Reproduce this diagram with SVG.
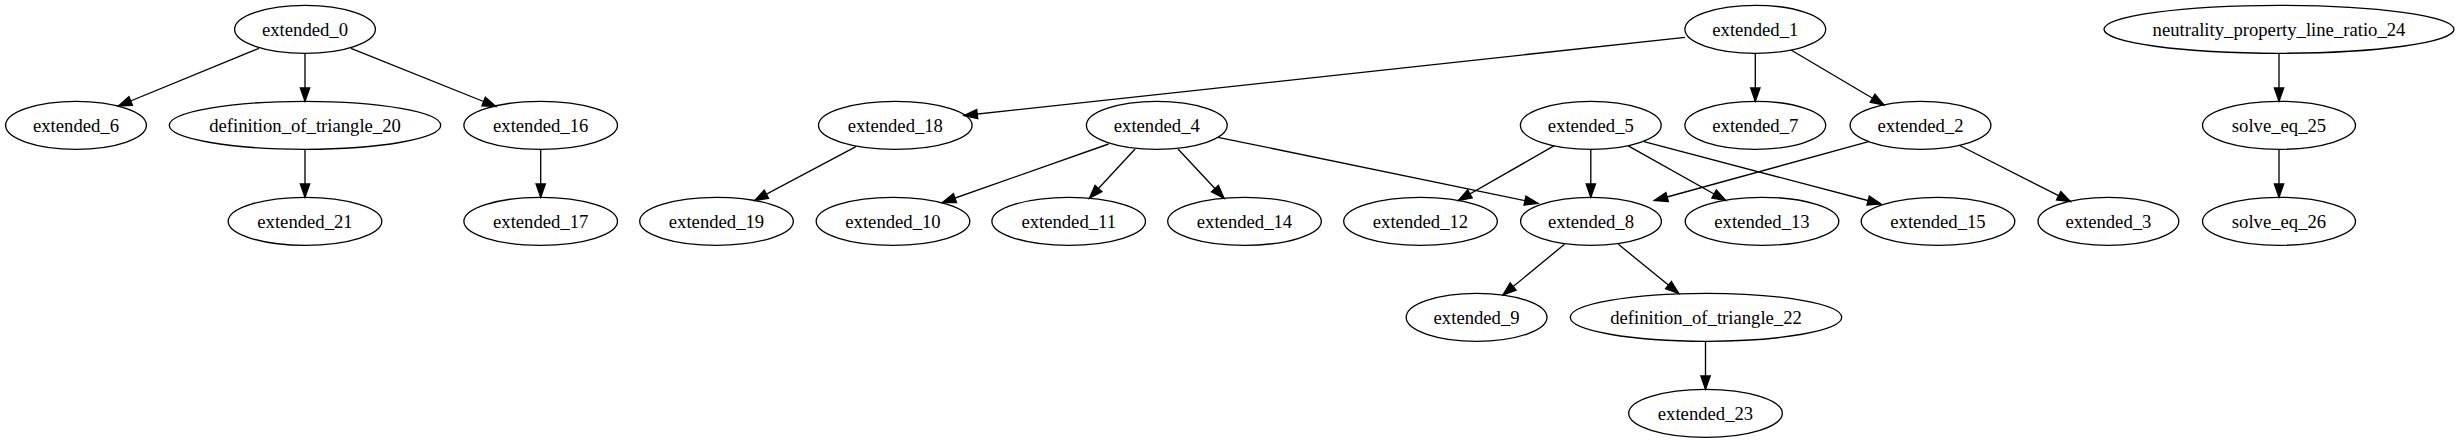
<svg xmlns="http://www.w3.org/2000/svg" width="2460" height="443" viewBox="0 0 2460 443">
<style>
.n ellipse{fill:none;stroke:#000;stroke-width:1.33}
.n text{font-family:"Liberation Serif","Times New Roman",serif;font-size:18.67px;text-anchor:middle;fill:#000}
.e line{stroke:#000;stroke-width:1.33;marker-end:url(#ah)}
</style>
<defs>
<marker id="ah" markerUnits="userSpaceOnUse" markerWidth="16" markerHeight="12" refX="13.3" refY="4.67" orient="auto" overflow="visible">
<path d="M0,0 L13.3,4.67 L0,9.33 Z" fill="#000" stroke="#000" stroke-width="1.33"/>
</marker>
</defs>
<rect width="2460" height="443" fill="#fff"/>
<g id="edges" class="e">
<line x1="259" y1="48.3" x2="118.4" y2="106"/>
<line x1="305" y1="53.3" x2="305" y2="101.3"/>
<line x1="351" y1="48.3" x2="496" y2="106.5"/>
<line x1="305" y1="149.3" x2="305" y2="197.3"/>
<line x1="540.7" y1="149.3" x2="540.7" y2="197.3"/>
<line x1="1685" y1="37.3" x2="964" y2="115.5"/>
<line x1="855.9" y1="146.7" x2="754.7" y2="200.5"/>
<line x1="1108.6" y1="144" x2="942.4" y2="202.5"/>
<line x1="1135.1" y1="149" x2="1089.4" y2="198.3"/>
<line x1="1178" y1="149" x2="1224" y2="198.3"/>
<line x1="1218" y1="137.3" x2="1538" y2="203.3"/>
<line x1="1755.3" y1="53.3" x2="1755.3" y2="101.3"/>
<line x1="1791" y1="50" x2="1884" y2="105"/>
<line x1="1554.3" y1="145.7" x2="1458.4" y2="200.5"/>
<line x1="1590.8" y1="149.3" x2="1590.8" y2="197.3"/>
<line x1="1627.8" y1="145.7" x2="1725.7" y2="200.5"/>
<line x1="1644" y1="141.7" x2="1881" y2="204"/>
<line x1="1868.6" y1="141.7" x2="1654.3" y2="200.5"/>
<line x1="1958.7" y1="145" x2="2070.5" y2="201.7"/>
<line x1="2279" y1="53.3" x2="2279" y2="101.3"/>
<line x1="2279" y1="149.3" x2="2279" y2="197.3"/>
<line x1="1564.5" y1="244.3" x2="1502.9" y2="295"/>
<line x1="1618.4" y1="244.3" x2="1678.8" y2="293.5"/>
<line x1="1705.5" y1="341.3" x2="1705.5" y2="389.3"/>
</g>
<g id="extended_0" class="n"><ellipse cx="305" cy="29.3" rx="70.4" ry="24"/><text x="305" y="35.5">extended_0</text></g>
<g id="extended_6" class="n"><ellipse cx="76" cy="125.3" rx="70.4" ry="24"/><text x="76" y="131.5">extended_6</text></g>
<g id="definition_of_triangle_20" class="n"><ellipse cx="305" cy="125.3" rx="135.7" ry="24"/><text x="305" y="131.5">definition_of_triangle_20</text></g>
<g id="extended_16" class="n"><ellipse cx="540.7" cy="125.3" rx="76.8" ry="24"/><text x="540.7" y="131.5">extended_16</text></g>
<g id="extended_21" class="n"><ellipse cx="305" cy="221.3" rx="76.8" ry="24"/><text x="305" y="227.5">extended_21</text></g>
<g id="extended_17" class="n"><ellipse cx="540.7" cy="221.3" rx="76.8" ry="24"/><text x="540.7" y="227.5">extended_17</text></g>
<g id="extended_1" class="n"><ellipse cx="1755.3" cy="29.3" rx="70.4" ry="24"/><text x="1755.3" y="35.5">extended_1</text></g>
<g id="extended_18" class="n"><ellipse cx="895.3" cy="125.3" rx="76.8" ry="24"/><text x="895.3" y="131.5">extended_18</text></g>
<g id="extended_4" class="n"><ellipse cx="1156.8" cy="125.3" rx="70.4" ry="24"/><text x="1156.8" y="131.5">extended_4</text></g>
<g id="extended_5" class="n"><ellipse cx="1590.8" cy="125.3" rx="70.4" ry="24"/><text x="1590.8" y="131.5">extended_5</text></g>
<g id="extended_7" class="n"><ellipse cx="1755.3" cy="125.3" rx="70.4" ry="24"/><text x="1755.3" y="131.5">extended_7</text></g>
<g id="extended_2" class="n"><ellipse cx="1920.5" cy="125.3" rx="70.4" ry="24"/><text x="1920.5" y="131.5">extended_2</text></g>
<g id="extended_19" class="n"><ellipse cx="716.5" cy="221.3" rx="76.8" ry="24"/><text x="716.5" y="227.5">extended_19</text></g>
<g id="extended_10" class="n"><ellipse cx="893" cy="221.3" rx="76.8" ry="24"/><text x="893" y="227.5">extended_10</text></g>
<g id="extended_11" class="n"><ellipse cx="1068.7" cy="221.3" rx="76.8" ry="24"/><text x="1068.7" y="227.5">extended_11</text></g>
<g id="extended_14" class="n"><ellipse cx="1244.5" cy="221.3" rx="76.8" ry="24"/><text x="1244.5" y="227.5">extended_14</text></g>
<g id="extended_12" class="n"><ellipse cx="1420.5" cy="221.3" rx="76.8" ry="24"/><text x="1420.5" y="227.5">extended_12</text></g>
<g id="extended_8" class="n"><ellipse cx="1591" cy="221.3" rx="70.4" ry="24"/><text x="1591" y="227.5">extended_8</text></g>
<g id="extended_13" class="n"><ellipse cx="1762" cy="221.3" rx="76.8" ry="24"/><text x="1762" y="227.5">extended_13</text></g>
<g id="extended_15" class="n"><ellipse cx="1938" cy="221.3" rx="76.8" ry="24"/><text x="1938" y="227.5">extended_15</text></g>
<g id="extended_3" class="n"><ellipse cx="2108.4" cy="221.3" rx="70.4" ry="24"/><text x="2108.4" y="227.5">extended_3</text></g>
<g id="extended_9" class="n"><ellipse cx="1476.6" cy="317.3" rx="70.4" ry="24"/><text x="1476.6" y="323.5">extended_9</text></g>
<g id="definition_of_triangle_22" class="n"><ellipse cx="1706" cy="317.3" rx="135.7" ry="24"/><text x="1706" y="323.5">definition_of_triangle_22</text></g>
<g id="extended_23" class="n"><ellipse cx="1705.5" cy="413.3" rx="76.8" ry="24"/><text x="1705.5" y="419.5">extended_23</text></g>
<g id="neutrality_property_line_ratio_24" class="n"><ellipse cx="2279" cy="29.3" rx="175" ry="24"/><text x="2279" y="35.5">neutrality_property_line_ratio_24</text></g>
<g id="solve_eq_25" class="n"><ellipse cx="2279" cy="125.3" rx="76.5" ry="24"/><text x="2279" y="131.5">solve_eq_25</text></g>
<g id="solve_eq_26" class="n"><ellipse cx="2279" cy="221.3" rx="76.5" ry="24"/><text x="2279" y="227.5">solve_eq_26</text></g>
</svg>
